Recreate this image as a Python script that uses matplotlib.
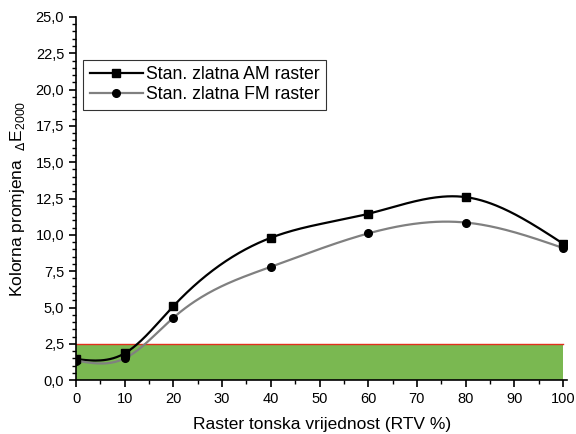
import numpy as np
import matplotlib
matplotlib.use("Agg")
import matplotlib.pyplot as plt
from matplotlib.ticker import MultipleLocator, FuncFormatter

plt.rcParams['font.family'] = ['Liberation Sans', 'DejaVu Sans']

# ─── data ────────────────────────────────────────────────────────────────────
rtv   = [0, 10, 20, 40, 60, 80, 100]
am    = [1.45, 1.85, 5.1, 9.8, 11.45, 12.6, 9.4]
fm    = [1.35, 1.5, 4.3, 7.8, 10.1, 10.85, 9.1]
labels = ["Stan. zlatna AM raster", "Stan. zlatna FM raster"]
limit = 2.5


def natural_spline(x, y, n=300):
    """Natural cubic spline through (x, y), evaluated on n points."""
    x = np.asarray(x, float)
    y = np.asarray(y, float)
    k = len(x)
    h = np.diff(x)
    A = np.zeros((k, k))
    b = np.zeros(k)
    A[0, 0] = A[-1, -1] = 1.0
    for i in range(1, k - 1):
        A[i, i - 1] = h[i - 1]
        A[i, i] = 2 * (h[i - 1] + h[i])
        A[i, i + 1] = h[i]
        b[i] = 6 * ((y[i + 1] - y[i]) / h[i] - (y[i] - y[i - 1]) / h[i - 1])
    m = np.linalg.solve(A, b)
    xs = np.linspace(x[0], x[-1], n)
    idx = np.clip(np.searchsorted(x, xs) - 1, 0, k - 2)
    x0, x1 = x[idx], x[idx + 1]
    hh = x1 - x0
    t0, t1 = x1 - xs, xs - x0
    ys = (m[idx] * t0**3 + m[idx + 1] * t1**3) / (6 * hh) \
        + (y[idx] / hh - m[idx] * hh / 6) * t0 \
        + (y[idx + 1] / hh - m[idx + 1] * hh / 6) * t1
    return xs, ys


fig = plt.figure(figsize=(5.76, 4.34), dpi=100)
ax = fig.add_axes([0.132, 0.124, 0.853, 0.837])

# tolerance band
ax.fill_between([rtv[0], rtv[-1]], 0, limit, color="#7ab851", lw=0, zorder=1)
ax.plot([rtv[0], rtv[-1]], [limit, limit], color="#e0301e", lw=1.0, zorder=2)

for vals, col, mk in ((am, "black", "s"), (fm, "#808080", "o")):
    xs, ys = natural_spline(rtv, vals)
    ax.plot(xs, ys, color=col, lw=1.6, zorder=3)
    ax.plot(rtv, vals, ls="none", marker=mk, color="black", ms=5.5, zorder=4)

# legend proxies
h_am, = ax.plot([], [], color="black", lw=1.6, marker="s", ms=5.5, mfc="black", mec="black")
h_fm, = ax.plot([], [], color="#808080", lw=1.6, marker="o", ms=5.5, mfc="black", mec="black")
leg = ax.legend([h_am, h_fm], labels, loc="upper left", bbox_to_anchor=(0.014, 0.882),
                fontsize=12.7, frameon=True, fancybox=False, handlelength=3.0,
                handletextpad=0.2, borderpad=0.38, labelspacing=0.15, borderaxespad=0)
leg.get_frame().set_edgecolor("black")
leg.get_frame().set_linewidth(0.8)

ax.set_xlim(0, 100.9)
ax.set_ylim(0, 25)
ax.xaxis.set_major_locator(MultipleLocator(10))
ax.xaxis.set_minor_locator(MultipleLocator(5))
ax.yaxis.set_major_locator(MultipleLocator(2.5))
ax.yaxis.set_minor_locator(MultipleLocator(0.5))
ax.yaxis.set_major_formatter(FuncFormatter(lambda v, p: f"{v:.1f}".replace(".", ",")))
ax.tick_params(which="major", direction="out", length=5, width=1.2, labelsize=10.5)
ax.tick_params(which="minor", direction="out", length=3, width=1.0)

for s in ("top", "right"):
    ax.spines[s].set_visible(False)
for s in ("left", "bottom"):
    ax.spines[s].set_linewidth(1.2)

ax.set_xlabel("Raster tonska vrijednost (RTV %)", fontsize=12.5, labelpad=8)
ax.set_ylabel(r"Kolorna promjena  $_{\Delta}\mathregular{E}_{\mathregular{2000}}$",
              fontsize=12.5, labelpad=6)

fig.savefig("out.png", dpi=100)
